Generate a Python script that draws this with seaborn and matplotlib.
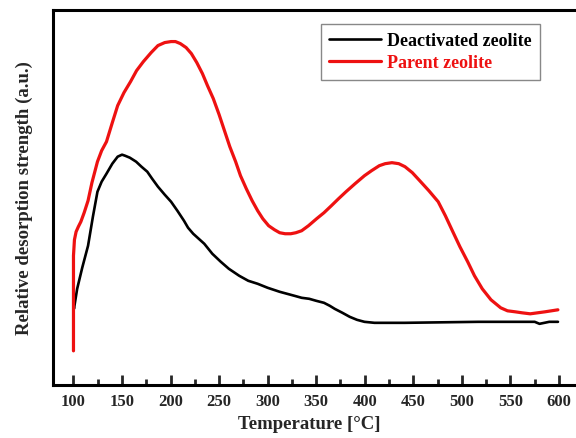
import matplotlib
matplotlib.use("Agg")
import matplotlib.pyplot as plt
import seaborn as sns
import pandas as pd
from matplotlib.ticker import MultipleLocator
from matplotlib.lines import Line2D

parent_T = [100, 100, 101, 102.7, 105, 107.6, 111, 115, 119, 124.7, 129, 134, 140, 145.5,
            152, 158.8, 165, 172, 180, 187, 194, 200.5, 205, 210, 216,
            221.4, 227, 232.8, 238, 244, 250, 255.5, 261, 267, 272, 278, 284, 289.7,
            295, 301, 307, 312.4, 318, 323.8, 329, 335, 342, 350.4, 358,
            365.6, 373, 380.7, 390, 399.7, 407, 415, 421, 428, 435, 441.4, 449, 456.6,
            466, 475.6, 483, 490.7, 498, 506, 513, 521, 530, 540, 547,
            555, 562, 570.4, 578, 585.6, 598.9]
parent_I = [34, 129, 145, 153, 158, 163, 172, 184, 202, 223, 234, 243, 262, 279,
            292, 303, 314, 323, 332, 339, 342, 343, 343, 341, 337,
            331, 322, 311, 299, 286, 270, 254, 238, 223, 209, 196, 184, 174,
            166, 159, 155, 152, 151, 151, 152, 154, 159, 166, 172,
            179, 186, 193, 201, 209, 214, 219, 221, 222, 221, 218, 212, 204,
            194, 183, 169, 153, 138, 123, 109, 96, 85, 77, 74,
            73, 72, 71, 72, 73, 75]

deact_T = [100, 100.5, 103.8, 109, 115, 120, 124.7, 129, 134, 140, 145.5, 150, 153, 158, 164.5,
           170, 176, 181, 187, 194, 200.5, 207, 213.8,
           218, 223.3, 229, 234.7, 243, 251.7, 260, 270.7, 280, 289.7, 300, 312.4, 320,
           327.6, 335, 342.8, 350, 358, 364, 369, 377, 384.5, 392,
           399.7, 410, 441, 517, 575, 580, 585, 590, 599]
deact_I = [80, 76, 96, 117, 139, 168, 193, 203, 211, 221, 228, 230, 229, 227, 223,
           218, 213, 206, 198, 190, 183, 174, 164,
           157, 151, 146, 141, 131, 123, 116, 109, 104, 101, 97, 93, 91,
           89, 87, 86, 84, 82, 79, 76, 72, 68, 65,
           63, 62, 62, 63, 63, 61, 62, 63, 63]

labels = ["Deactivated zeolite", "Parent zeolite"]
colors = ["#000000", "#ee1111"]

df = pd.concat([
    pd.DataFrame({"T": deact_T, "I": deact_I, "s": labels[0]}),
    pd.DataFrame({"T": parent_T, "I": parent_I, "s": labels[1]}),
], ignore_index=True)

sns.set_style("ticks")
plt.rcParams["font.family"] = ["Liberation Serif", "DejaVu Serif"]
plt.rcParams["font.weight"] = "bold"

W = 0.915
H = 0.855
fig = plt.figure(figsize=(5.76, 4.39), dpi=100)
ax = fig.add_axes([0.0925, 0.121, W, H])

sns.lineplot(data=df, x="T", y="I", hue="s", palette=colors, sort=False,
             estimator=None, ax=ax, legend=False)
for ln, lw in zip(ax.get_lines(), [1.9, 2.3]):
    ln.set_linewidth(lw)
    ln.set_solid_joinstyle("round")
    ln.set_solid_capstyle("round")

ax.set_xlim(79.2, 622)
ax.set_ylim(0, 375)
ax.xaxis.set_major_locator(MultipleLocator(50))
ax.xaxis.set_minor_locator(MultipleLocator(25))
ax.set_yticks([])
ax.tick_params(axis="x", which="major", direction="in", length=7, width=2,
               labelsize=12, pad=6)
ax.tick_params(axis="x", which="minor", direction="in", length=4, width=2)
for lab in ax.get_xticklabels():
    lab.set_fontweight("bold")
for sp in ax.spines.values():
    sp.set_linewidth(2.2)
    sp.set_color("black")

ax.set_xlabel("Temperature [°C]", fontsize=13.5, fontweight="bold")
ax.set_ylabel("Relative desorption strength (a.u.)", fontsize=13.5, fontweight="bold")
ax.xaxis.set_label_coords((309 - 53.3) / (W * 576), -0.08)
ax.yaxis.set_label_coords(-(53.3 - 33) / (W * 576), 0.5)

handles = [Line2D([], [], color=colors[0], lw=1.9), Line2D([], [], color=colors[1], lw=2.3)]
leg = ax.legend(handles, labels, loc="upper left",
                bbox_to_anchor=((321 - 53.3) / (W * 576), 1 - (25 - 10.7) / (H * 439)),
                borderaxespad=0,
                frameon=True, fancybox=False, edgecolor="#888888", framealpha=1,
                prop={"weight": "bold", "size": 13}, handlelength=2.9,
                handletextpad=0.3, borderpad=0.45, labelspacing=0.3)
leg.get_frame().set_linewidth(1.0)
for t, c in zip(leg.get_texts(), colors):
    t.set_color(c)

fig.savefig("out.png", dpi=100)
